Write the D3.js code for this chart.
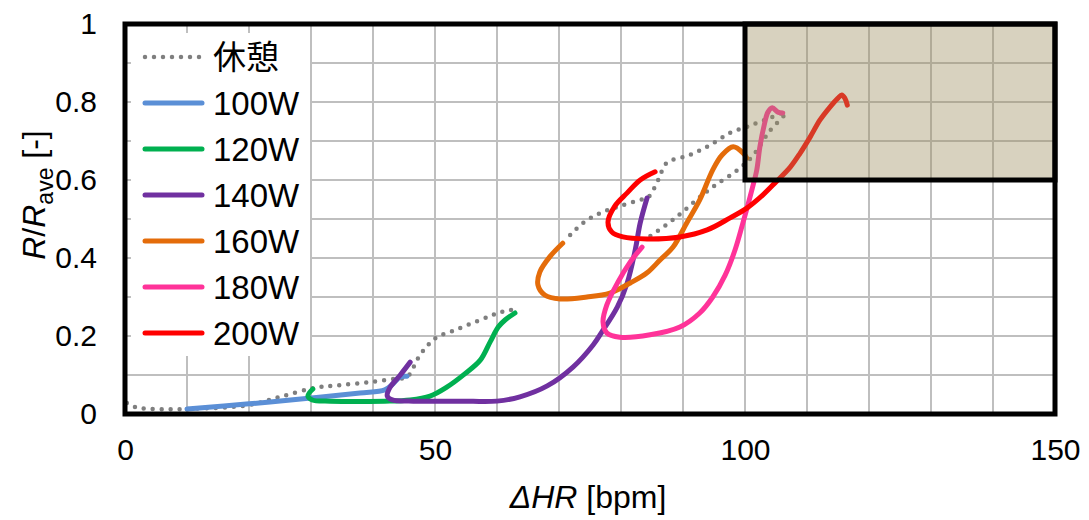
<!DOCTYPE html>
<html>
<head>
<meta charset="utf-8">
<script src="https://cdn.jsdelivr.net/npm/d3@7"></script>
<style>
  html, body { margin: 0; padding: 0; background: #fff; }
  svg { display: block; }
  text { font-family: "Liberation Sans", Arial, sans-serif; fill: #000; }
</style>
</head>
<body>
<svg id="chart" width="1089" height="520"></svg>
<script>
// ΔHR [bpm] vs R/Rave [-] for rest and each workload
const xTicks = [0, 50, 100, 150];
const yTicks = [0, 0.2, 0.4, 0.6, 0.8, 1];
const seriesNames = ["休憩", "100W", "120W", "140W", "160W", "180W", "200W"];
const seriesColors = ["#7f7f7f", "#5b8fd6", "#00b050", "#7030a0", "#e46c0a", "#ff3399", "#ff0000"];

// rest (dotted); null marks a gap in the record
const rest = [
  [0.3, 0.028], [1.6, 0.018], [4.0, 0.013], [10, 0.013], [20, 0.023], [25, 0.044],
  [30.6, 0.067], [34.7, 0.074], [39.5, 0.082], [43.5, 0.090], [45.5, 0.095],
  [47.3, 0.144], [48.7, 0.174], [50.3, 0.197], [53.2, 0.215], [56.5, 0.236],
  [59.7, 0.256], [62.1, 0.267], [62.6, 0.264],
  null,
  [71.8, 0.459], [73.9, 0.490], [76.6, 0.515], [79.8, 0.533], [83.1, 0.549],
  [84.4, 0.556], [86.0, 0.600], [87.4, 0.644], [91.1, 0.664], [94.4, 0.690],
  [97.6, 0.721], [100.3, 0.736], [103.2, 0.754], [106.5, 0.772],
  [104.0, 0.726], [101.1, 0.659], [98.4, 0.621], [95.2, 0.587], [92.7, 0.556],
  [90.3, 0.523], [87.9, 0.492], [84.7, 0.456]
];
const w100 = [
  [10, 0.013], [20, 0.026], [30, 0.041], [37.9, 0.054], [41.9, 0.062],
  [43.2, 0.077], [44.4, 0.095], [45.5, 0.097]
];
const w120 = [
  [30.3, 0.064], [29.5, 0.046], [30.2, 0.036], [33.1, 0.033], [41.9, 0.033],
  [46.0, 0.036], [49.2, 0.046], [51.9, 0.069], [54.8, 0.103], [57.3, 0.138],
  [58.9, 0.185], [60.2, 0.223], [61.3, 0.241], [62.9, 0.259]
];
const w140 = [
  [46.0, 0.133], [44.4, 0.100], [42.7, 0.067], [42.3, 0.046], [43.1, 0.036],
  [46.5, 0.033], [54.0, 0.033], [60.0, 0.033], [63.7, 0.044], [68.1, 0.072],
  [72.3, 0.121], [75.5, 0.177], [76.9, 0.210], [79.4, 0.274], [81.0, 0.336],
  [82.3, 0.421], [83.1, 0.490], [84.2, 0.554]
];
const w160 = [
  [70.6, 0.438], [68.5, 0.403], [66.9, 0.364], [66.6, 0.331], [67.7, 0.305],
  [70.2, 0.295], [74.5, 0.300], [78.2, 0.310], [81.5, 0.336], [84.2, 0.362],
  [86.3, 0.395], [88.4, 0.428], [90.6, 0.490], [92.7, 0.549], [94.8, 0.626],
  [96.3, 0.664], [98.1, 0.685], [99.7, 0.669], [100.3, 0.656]
];
const w180 = [
  [83.4, 0.428], [81.5, 0.390], [79.5, 0.338], [77.7, 0.279], [77.1, 0.236],
  [77.7, 0.208], [79.8, 0.197], [84.7, 0.203], [89.5, 0.223], [92.7, 0.259],
  [94.8, 0.300], [96.8, 0.356], [98.4, 0.421], [99.7, 0.492], [101.1, 0.574],
  [101.9, 0.626], [102.4, 0.685], [103.1, 0.741], [103.7, 0.774], [104.4, 0.785],
  [105.3, 0.774], [106.1, 0.772]
];
const w200 = [
  [85.5, 0.621], [83.1, 0.600], [81.0, 0.567], [79.0, 0.533], [77.9, 0.492],
  [78.5, 0.467], [80.3, 0.454], [84.2, 0.449], [89.5, 0.454], [93.9, 0.472],
  [97.6, 0.503], [100.3, 0.528], [102.9, 0.562], [104.8, 0.592], [107.3, 0.633],
  [108.9, 0.669], [110.5, 0.710], [112.1, 0.754], [113.7, 0.787], [115.0, 0.810],
  [115.6, 0.818], [116.1, 0.810], [116.5, 0.792]
];
// target zone: ΔHR 100–150, R/Rave 0.6–1
const zoneX = [100, 150];
const zoneY = [0.6, 1];

const seriesData = [rest, w100, w120, w140, w160, w180, w200];

const svg = d3.select("#chart");
const plotLeft = 125, plotRight = 1055, plotTop = 24, plotBottom = 414;
const x = d3.scaleLinear().domain([0, 150]).range([plotLeft, plotRight]);
const y = d3.scaleLinear().domain([0, 1]).range([plotBottom, plotTop]);

// grid
const grid = svg.append("g");
grid.selectAll("line.v").data(d3.range(10, 150, 10)).join("line")
  .attr("class", "v")
  .attr("x1", d => x(d)).attr("x2", d => x(d))
  .attr("y1", plotTop).attr("y2", plotBottom)
  .attr("stroke", "#bfbfbf").attr("stroke-width", 2);
grid.selectAll("line.h").data(d3.range(1, 10).map(i => i / 10)).join("line")
  .attr("class", "h")
  .attr("x1", plotLeft).attr("x2", plotRight)
  .attr("y1", d => y(d)).attr("y2", d => y(d))
  .attr("stroke", "#bfbfbf").attr("stroke-width", 2);

// curves
const line = d3.line()
  .defined(d => d !== null)
  .x(d => x(d[0])).y(d => y(d[1]))
  .curve(d3.curveCatmullRom.alpha(0.5));

const curves = svg.append("g").attr("fill", "none");
seriesData.forEach((data, i) => {
  const p = curves.append("path")
    .attr("d", line(data))
    .attr("stroke", seriesColors[i])
    .attr("stroke-linecap", "round")
    .attr("stroke-linejoin", "round")
    .attr("stroke-width", 5);
  if (i === 0) p.attr("stroke-dasharray", "0,9").attr("stroke-width", 4.5);
});

// translucent target zone over the curves
svg.append("rect")
  .attr("x", x(zoneX[0])).attr("y", y(zoneY[1]))
  .attr("width", x(zoneX[1]) - x(zoneX[0]))
  .attr("height", y(zoneY[0]) - y(zoneY[1]))
  .attr("fill", "rgb(157,142,95)").attr("fill-opacity", 0.4);

// legend
const lg = svg.append("g");
lg.append("rect").attr("x", 131).attr("y", 33).attr("width", 179).attr("height", 323)
  .attr("fill", "#fff");
seriesNames.forEach((name, i) => {
  const cy = 57 + i * 46;
  const s = lg.append("line")
    .attr("x1", 145).attr("x2", 202).attr("y1", cy).attr("y2", cy)
    .attr("stroke", seriesColors[i]).attr("stroke-width", 5)
    .attr("stroke-linecap", "round");
  if (i === 0) s.attr("stroke-dasharray", "0,9").attr("stroke-width", 4.5);
  lg.append("text")
    .attr("x", 213).attr("y", cy)
    .attr("dy", "0.36em")
    .attr("font-size", 33)
    .style("font-family", i === 0 ? "'Noto Sans CJK JP', sans-serif" : "'Liberation Sans', Arial, sans-serif")
    .text(name);
});

// frame and zone border
svg.append("rect")
  .attr("x", plotLeft).attr("y", plotTop)
  .attr("width", plotRight - plotLeft).attr("height", plotBottom - plotTop)
  .attr("fill", "none").attr("stroke", "#000").attr("stroke-width", 5);
svg.append("rect")
  .attr("x", x(zoneX[0])).attr("y", y(zoneY[1]))
  .attr("width", x(zoneX[1]) - x(zoneX[0]))
  .attr("height", y(zoneY[0]) - y(zoneY[1]))
  .attr("fill", "none").attr("stroke", "#000").attr("stroke-width", 5);

// axes
const xAxis = d3.axisBottom(x).tickValues(xTicks).tickSize(0).tickPadding(25).tickFormat(d3.format("d"));
const yAxis = d3.axisLeft(y).tickValues(yTicks).tickSize(0).tickPadding(28)
  .tickFormat(d => d === 0 || d === 1 ? String(d) : d3.format(".1f")(d));
const gx = svg.append("g").attr("transform", `translate(0,${plotBottom})`).call(xAxis);
const gy = svg.append("g").attr("transform", `translate(${plotLeft},0)`).call(yAxis);
[gx, gy].forEach(g => {
  g.select(".domain").remove();
  g.selectAll("text").attr("font-size", 30).attr("fill", "#000")
    .style("font-family", "'Liberation Sans', Arial, sans-serif");
});

// axis titles
const xt = svg.append("text").attr("x", 588).attr("y", 508)
  .attr("text-anchor", "middle").attr("font-size", 32);
xt.append("tspan").attr("font-style", "italic").text("ΔHR");
xt.append("tspan").text(" [bpm]");

const yt = svg.append("text")
  .attr("transform", "translate(45,195) rotate(-90)")
  .attr("text-anchor", "middle").attr("font-size", 32);
yt.append("tspan").attr("font-style", "italic").text("R");
yt.append("tspan").text("/");
yt.append("tspan").attr("font-style", "italic").text("R");
yt.append("tspan").attr("font-size", 23).attr("dy", 8).text("ave");
yt.append("tspan").attr("dy", -8).text(" [-]");
</script>
</body>
</html>
